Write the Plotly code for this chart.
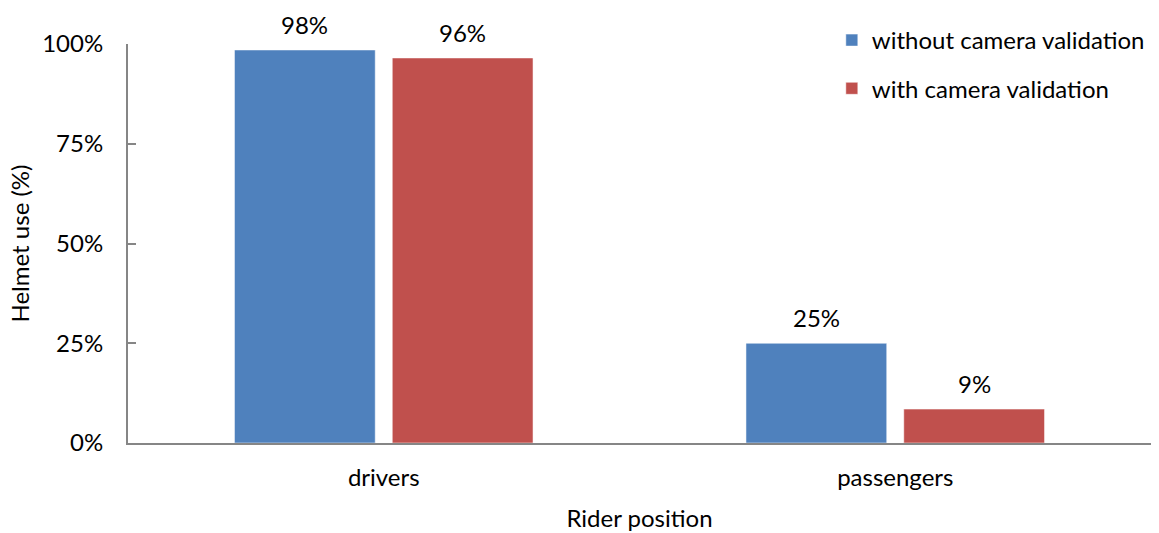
import plotly.graph_objects as go

categories = ["drivers", "passengers"]
series_names = ["without camera validation", "with camera validation"]
without_cam = [98.5, 25.0]
with_cam = [96.5, 8.5]
without_labels = ["98%", "25%"]
with_labels = ["96%", "9%"]
y_ticks = [0, 25, 50, 75, 100]
y_tick_labels = ["0%", "25%", "50%", "75%", "100%"]

colors = ["#4F81BD", "#C0504D"]
FONT = "Lato, Open Sans, sans-serif"
FS = 24

fig = go.Figure()
for i, (name, vals, labs) in enumerate(zip(series_names, [without_cam, with_cam], [without_labels, with_labels])):
    fig.add_trace(go.Bar(
        x=categories, y=vals, name=name, legendgroup=name,
        marker=dict(color=colors[i], line=dict(color="rgba(255,255,255,0.5)", width=1)),
        hoverinfo="skip",
    ))
    shift = -79 if i == 0 else 79
    for c, v, t in zip(categories, vals, labs):
        fig.add_annotation(x=c, y=v, text=t, xref="x", yref="y", showarrow=False,
                           xshift=shift, yshift=9, yanchor="bottom",
                           font=dict(family=FONT, size=FS, color="#000"))

fig.update_layout(
    width=1159, height=533,
    margin=dict(l=128, r=8, t=44, b=90, autoexpand=False),
    paper_bgcolor="white", plot_bgcolor="white",
    barmode="group", bargap=0.383, bargroupgap=0.108,
    font=dict(family=FONT, size=FS, color="#000"),
    legend=dict(x=0.688, y=1 - 18 / 533, xanchor="left", yanchor="top",
                yref="container",
                traceorder="grouped", tracegroupgap=14,
                font=dict(family=FONT, size=FS, color="#000"),
                itemwidth=30, bgcolor="rgba(0,0,0,0)"),
    xaxis=dict(showline=True, linecolor="#868686", linewidth=2, ticks="",
               title=dict(text="Rider position", standoff=20,
                          font=dict(family=FONT, size=FS)),
               ticklabelstandoff=12, showgrid=False),
    yaxis=dict(range=[0, 100], tickvals=y_ticks, ticktext=y_tick_labels,
               showline=True, linecolor="#868686", linewidth=2,
               ticks="inside", ticklen=8, tickcolor="#868686", tickwidth=2,
               showgrid=False, zeroline=False, ticklabelstandoff=18,
               title=dict(text="Helmet use (%)", standoff=6,
                          font=dict(family=FONT, size=FS))),
)

fig.write_html("out.html")
